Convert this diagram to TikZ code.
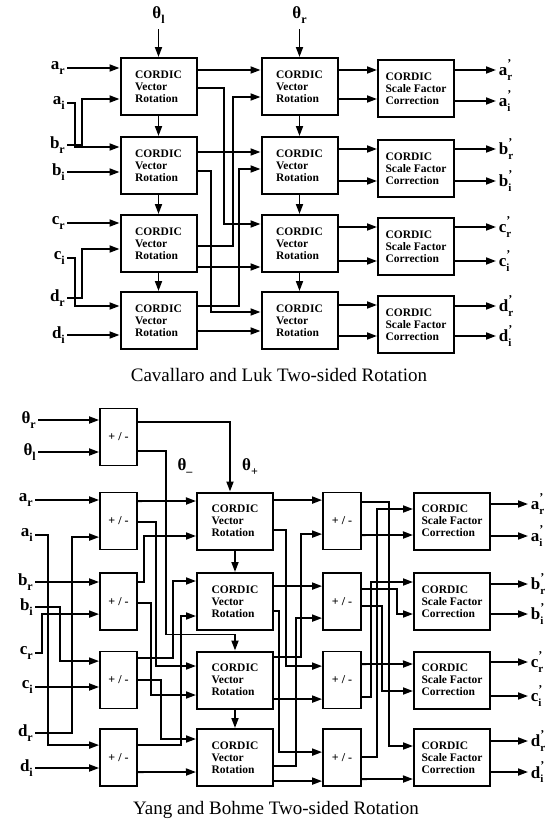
\documentclass[tikz,border=0pt]{standalone}
\usepackage{fontspec}
\setmainfont{Liberation Serif}
\usetikzlibrary{arrows.meta}
% signal names with subscripts
\newcommand{\sig}[2]{\textbf{#1}\raisebox{-4.5pt}{\fontsize{12}{12}\selectfont\textbf{#2}}}
\newcommand{\sigp}[2]{\textbf{#1}\rlap{\raisebox{8.5pt}{\fontsize{12}{12}\selectfont\textbf{'}}}\raisebox{-4.5pt}{\fontsize{11}{11}\selectfont\textbf{#2}}}
% ports measured down from the top corners of a block
\newcommand{\inp}[2]{([yshift=-#2pt]#1.north west)}
\newcommand{\outp}[2]{([yshift=-#2pt]#1.north east)}

\begin{document}
\begin{tikzpicture}[x=1pt, y=-1pt,
    cordic/.style={draw, line width=2pt, minimum width=76pt, minimum height=57pt,
        inner sep=0pt, align=left, font=\fontsize{11.5}{12}\selectfont\bfseries},
    pmbox/.style={draw, line width=1.8pt, minimum width=37pt, minimum height=57pt,
        inner sep=0pt, font=\fontsize{12}{12}\selectfont\bfseries},
    wire/.style={line width=1.8pt},
    arr/.style={wire, -{Triangle[length=10pt, width=7pt]}},
    lbl/.style={font=\fontsize{17}{17}\selectfont, inner sep=1pt},
    captxt/.style={font=\fontsize{19}{19}\selectfont}]
\useasboundingbox (0,0) rectangle (549,825);

%% ---------- Cavallaro and Luk ----------
\foreach \n/\y in {1/86.5, 2/165.5, 3/243.5, 4/320.5} {
    \node[cordic] (va\n) at (158.5,\y) {CORDIC\\Vector\\Rotation};
    \node[cordic] (vb\n) at (299.5,\y) {CORDIC\\Vector\\Rotation};
}
\foreach \n/\y in {1/88.5, 2/168.5, 3/246.5, 4/324.5}
    \node[cordic] (sa\n) at (416,\y) {CORDIC\\Scale Factor\\Correction};

\node[lbl] (thl) at (158.5,15) {\sig{θ}{l}};
\node[lbl] (thr) at (299.5,15) {\sig{θ}{r}};
\draw[arr, shorten <=5pt] (thl.south) -- (va1.north);
\draw[arr, shorten <=5pt] (thr.south) -- (vb1.north);

\foreach \c/\y/\t/\s in {ar/68/a/r, ai/103/a/i, br/145/b/r, bi/172/b/i,
        cr/223/c/r, ci/258/c/i, dr/298/d/r, di/335/d/i} {
    \coordinate (\c) at (67,\y);
    \node[lbl, left=1pt] (l\c) at (\c) {\sig{\t}{\s}};
}
\draw[arr] (ar) -- (ar -| va1.west);
\draw[arr] (ai) -- ++(8,0) |- \inp{va2}{11};
\draw[arr] (br) -- ++(15,0) |- \inp{va1}{42};
\draw[arr] (bi) -- (bi -| va2.west);
\draw[arr] (cr) -- (cr -| va3.west);
\draw[arr] (ci) -- ++(8,0) |- \inp{va4}{15};
\draw[arr] (dr) -- ++(15,0) |- \inp{va3}{35};
\draw[arr] (di) -- (di -| va4.west);

% angle pass-through
\draw[arr] (va1.south) -- (va2.north);
\draw[arr] (va2.south) -- (va3.north);
\draw[arr] (va3.south) -- (va4.north);
\draw[arr] (vb1.south) -- (vb2.north);
\draw[arr] (vb2.south) -- (vb3.north);
\draw[arr] (vb3.south) -- (vb4.north);

% first to second rotation
\draw[arr] \outp{va1}{13} -- \inp{vb1}{13};
\draw[arr] \outp{va1}{31} -- ++(26.5,0) |- \inp{vb3}{10};
\draw[arr] \outp{va2}{16} -- \inp{vb2}{16};
\draw[arr] \outp{va2}{35} -- ++(13.5,0) |- \inp{vb4}{21};
\draw[arr] \outp{va3}{32} -- ++(35.5,0) |- \inp{vb1}{40};
\draw[arr] \outp{va3}{53} -- \inp{vb3}{53};
\draw[arr] \outp{va4}{15} -- ++(41.5,0) |- \inp{vb2}{33};
\draw[arr] \outp{va4}{40} -- \inp{vb4}{40};

% second rotation to scale correction
\draw[arr] \outp{vb1}{13} -- \inp{sa1}{11};
\draw[arr] \outp{vb1}{42} -- \inp{sa1}{40};
\draw[arr] \outp{vb2}{13} -- \inp{sa2}{10};
\draw[arr] \outp{vb2}{45} -- \inp{sa2}{42};
\draw[arr] \outp{vb3}{13} -- \inp{sa3}{10};
\draw[arr] \outp{vb3}{47} -- \inp{sa3}{44};
\draw[arr] \outp{vb4}{14} -- \inp{sa4}{10};
\draw[arr] \outp{vb4}{45} -- \inp{sa4}{41};

\foreach \n/\t/\p/\q in {1/a/11/42, 2/b/10/42, 3/c/10/44, 4/d/11/41} {
    \draw[arr] \outp{sa\n}{\p} -- ++(41,0) node[lbl, right=1pt] (o\t r) {\sigp{\t}{r}};
    \draw[arr] \outp{sa\n}{\q} -- ++(41,0) node[lbl, right=1pt] (o\t i) {\sigp{\t}{i}};
}
\node[captxt] (capa) at (279,375) {Cavallaro and Luk Two-sided Rotation};

%% ---------- Yang and Bohme ----------
\node[pmbox] (pang) at (118.5,437) {+ / -};
\foreach \n/\y in {1/521, 2/601.5, 3/680, 4/757.5} {
    \node[cordic] (vc\n) at (235,\y) {CORDIC\\Vector\\Rotation};
    \node[pmbox, minimum width=38pt] (pp\n) at (342,\y) {+ / -};
    \node[cordic] (ss\n) at (452,\y) {CORDIC\\Scale Factor\\Correction};
}
\foreach \n/\y in {a/521, b/601.5, c/680, d/757.5}
    \node[pmbox] (p\n) at (118.5,\y) {+ / -};

\coordinate (tr) at (38,420);
\coordinate (tl) at (38,452);
\node[lbl, left=1pt] (ltr) at (tr) {\sig{θ}{r}};
\node[lbl, left=1pt] (ltl) at (tl) {\sig{θ}{l}};
\draw[arr] (tr) -- (tr -| pang.west);
\draw[arr] (tl) -- (tl -| pang.west);
\draw[arr] \outp{pang}{14.5} -| ([xshift=-5pt]vc1.north);
\draw[arr] \outp{pang}{43.5} -- ++(28,0) |- ([yshift=16pt]vc3.north) -- (vc3.north);
\node[lbl] (thp) at (250,467) {\sig{θ}{+}};
\node[lbl] (thm) at (185,467) {\sig{θ}{–}};
\draw[arr] (vc1.south) -- (vc2.north);
\draw[arr] (vc3.south) -- (vc4.north);

\foreach \c/\y/\t/\s in {ar2/500/a/r, ai2/535/a/i, br2/582/b/r, bi2/607/b/i,
        cr2/653/c/r, ci2/687/c/i, dr2/733/d/r, di2/768/d/i} {
    \coordinate (\c) at (35,\y);
    \node[lbl, left=1pt] (l\c) at (\c) {\sig{\t}{\s}};
}
\draw[arr] (ar2) -- (ar2 -| pa.west);
\draw[arr] (ai2) -- ++(13,0) |- \inp{pd}{17};
\draw[arr] (br2) -- (br2 -| pb.west);
\draw[arr] (bi2) -- ++(25,0) |- \inp{pc}{10.5};
\draw[arr] (cr2) -- ++(7,0) |- \inp{pb}{42};
\draw[arr] (ci2) -- (ci2 -| pc.west);
\draw[arr] (dr2) -- ++(37,0) |- \inp{pa}{45.5};
\draw[arr] (di2) -- (di2 -| pd.west);

% sums and differences to rotations
\draw[arr] \outp{pa}{9.5} -- \inp{vc1}{9.5};
\draw[arr] \outp{pb}{10} -- ++(6,0) |- \inp{vc1}{44.5};
\draw[arr] \outp{pa}{30.5} -- ++(18,0) |- \inp{vc3}{15.5};
\draw[arr] \outp{pb}{31} -- ++(13,0) |- \inp{vc3}{44.5};
\draw[arr] \outp{pc}{7.5} -- ++(35,0) |- \inp{vc2}{9};
\draw[arr] \outp{pc}{29.5} -- ++(23,0) |- \inp{vc4}{11};
\draw[arr] \outp{pd}{17} -- ++(43,0) |- \inp{vc2}{44};
\draw[arr] \outp{pd}{44} -- \inp{vc4}{44};

% rotations to sums and differences
\draw[arr] \outp{vc1}{8.5} -- \inp{pp1}{8.5};
\draw[arr] \outp{vc1}{38.5} -- ++(12,0) |- \inp{pp3}{15.5};
\draw[arr] \outp{vc2}{14} -- \inp{pp2}{14};
\draw[arr] \outp{vc2}{39} -- ++(5,0) |- \inp{pp4}{24};
\draw[arr] \outp{vc3}{6.5} -- ++(27,0) |- \inp{pp1}{42.5};
\draw[arr] \outp{vc3}{48.5} -- \inp{pp3}{48.5};
\draw[arr] \outp{vc4}{38} -- ++(22,0) |- \inp{pp2}{46};
\draw[arr] \outp{vc4}{53} -- \inp{pp4}{53};

% sums and differences to scale correction
\draw[arr] \outp{pp1}{10.5} -- ++(27,0) |- \inp{ss4}{18};
\draw[arr] \outp{pp1}{43.5} -- \inp{ss1}{43.5};
\draw[arr] \outp{pp2}{17} -- ++(35,0) |- \inp{ss2}{42};
\draw[arr] \outp{pp2}{34} -- ++(20,0) |- \inp{ss3}{40.5};
\draw[arr] \outp{pp3}{13.5} -- \inp{ss3}{13.5};
\draw[arr] \outp{pp3}{46.5} -- ++(9,0) |- \inp{ss2}{10};
\draw[arr] \outp{pp4}{29} -- ++(15,0) |- \inp{ss1}{17.5};
\draw[arr] \outp{pp4}{51} -- \inp{ss4}{51};

\foreach \n/\t/\p/\q in {1/a/12.5/44.5, 2/b/12/42, 3/c/11.5/45.5, 4/d/13/44} {
    \draw[arr] \outp{ss\n}{\p} -- ++(37,0) node[lbl, right=1pt] (q\t r) {\sigp{\t}{r}};
    \draw[arr] \outp{ss\n}{\q} -- ++(37,0) node[lbl, right=1pt] (q\t i) {\sigp{\t}{i}};
}
\node[captxt] (capb) at (276,810) {Yang and Bohme Two-sided Rotation};
\end{tikzpicture}
\end{document}
